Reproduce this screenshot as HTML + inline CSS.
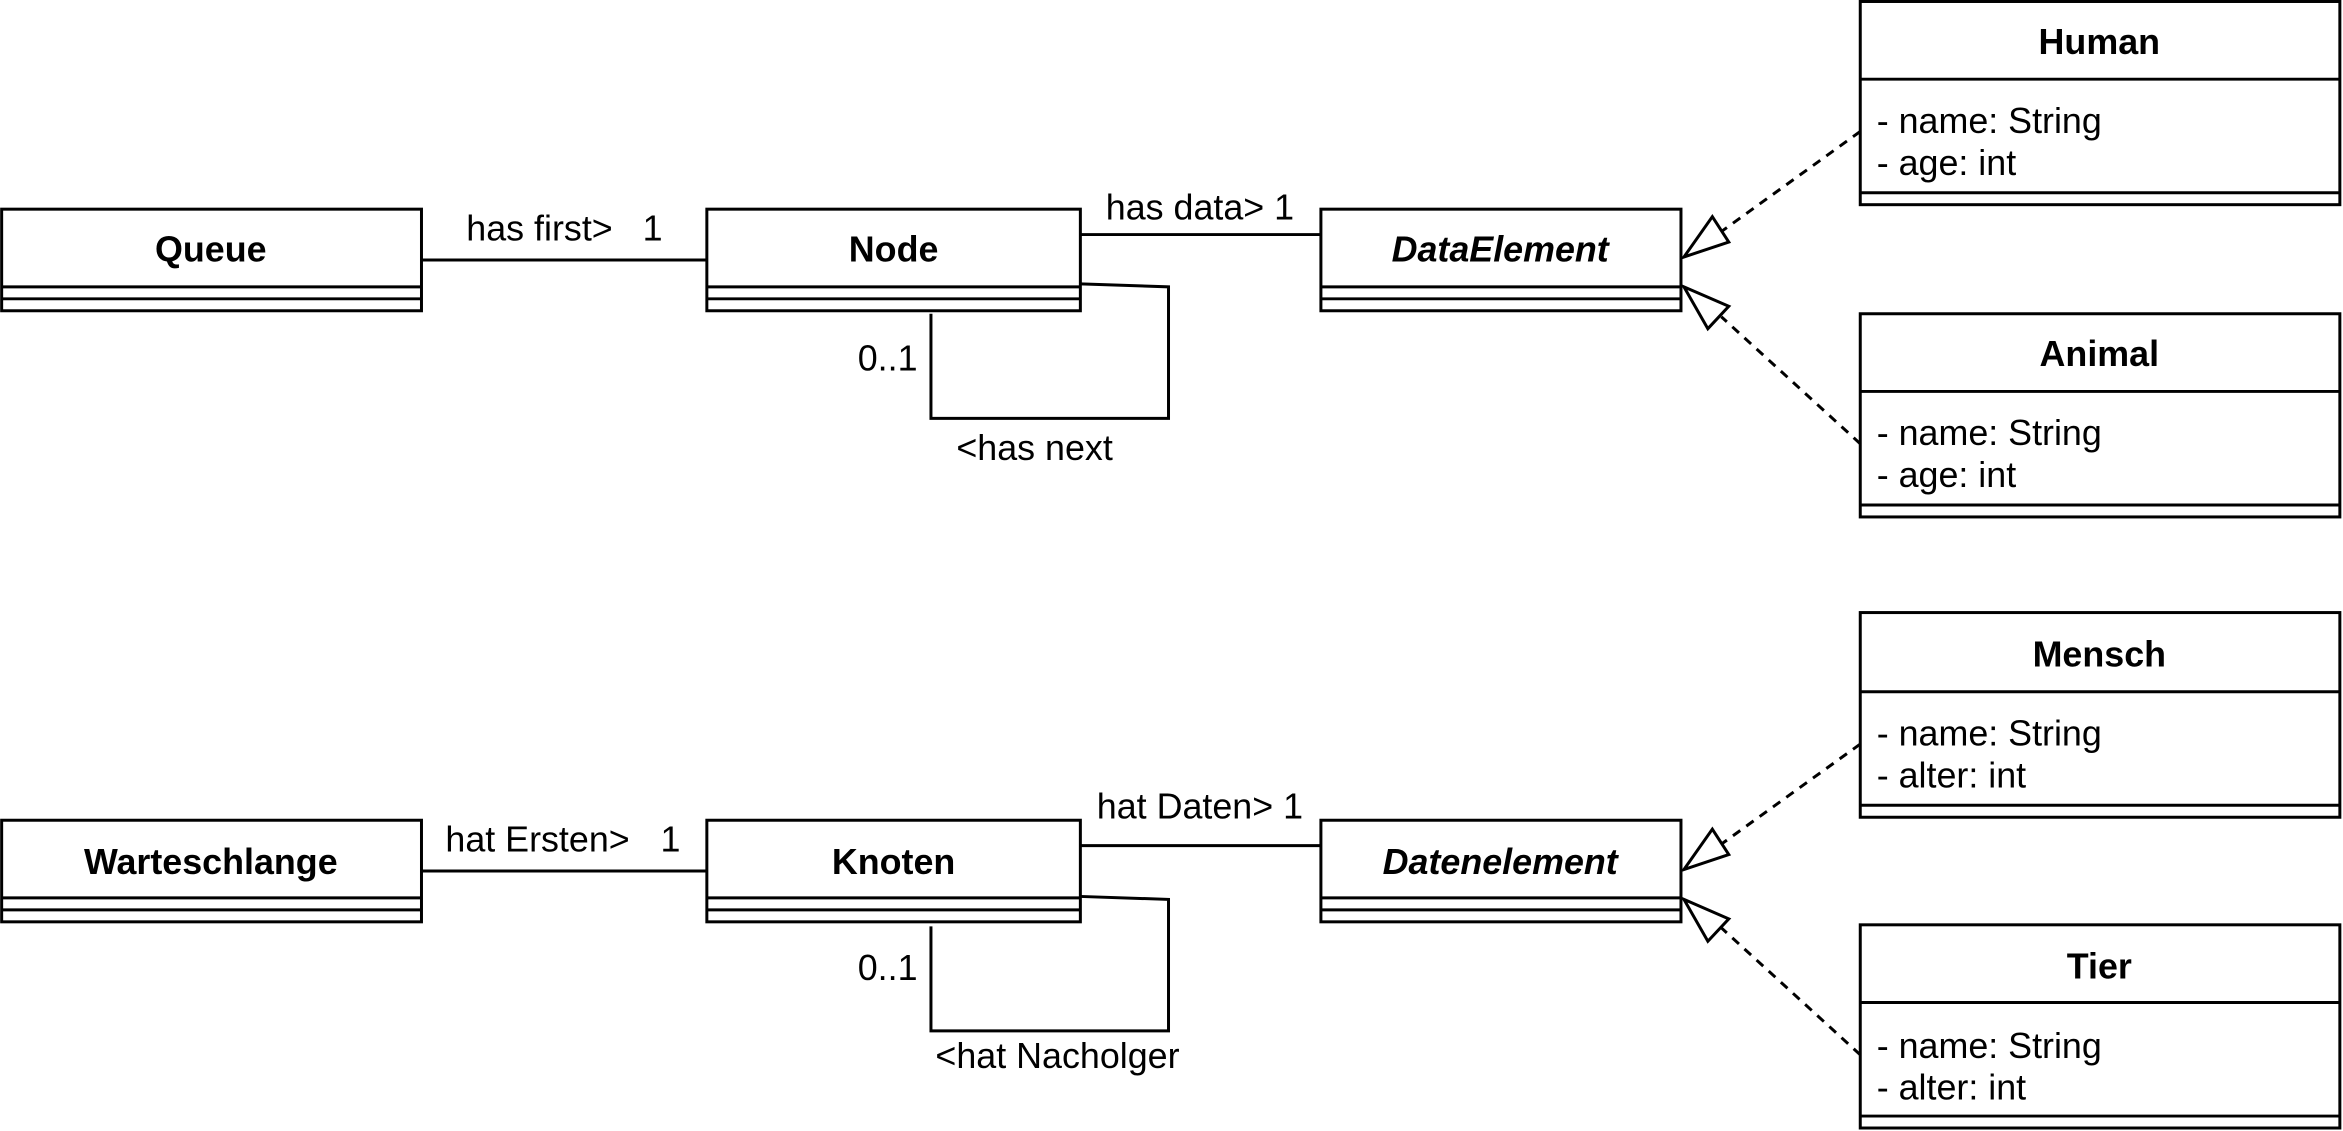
<!DOCTYPE html>
<html><head><meta charset="utf-8"><style>html,body{margin:0;padding:0;background:#fff}svg{display:block}</style></head>
<body>
<svg width="2343" height="1131" viewBox="0 0 1568 757" xmlns="http://www.w3.org/2000/svg" font-family="Liberation Sans, Arial, sans-serif" font-size="24" fill="none" stroke="#000" stroke-width="2">
<!-- TOP -->
<g>
<rect x="1" y="140" width="281" height="68" fill="#fff"/><line x1="1" y1="192" x2="282" y2="192"/><line x1="1" y1="200" x2="282" y2="200"/>
<rect x="473" y="140" width="250" height="68" fill="#fff"/><line x1="473" y1="192" x2="723" y2="192"/><line x1="473" y1="200" x2="723" y2="200"/>
<rect x="884" y="140" width="241" height="68" fill="#fff"/><line x1="884" y1="192" x2="1125" y2="192"/><line x1="884" y1="200" x2="1125" y2="200"/>
<rect x="1245" y="1" width="321" height="136" fill="#fff"/><line x1="1245" y1="53" x2="1566" y2="53"/><line x1="1245" y1="129" x2="1566" y2="129"/>
<rect x="1245" y="210" width="321" height="136" fill="#fff"/><line x1="1245" y1="262" x2="1566" y2="262"/><line x1="1245" y1="338" x2="1566" y2="338"/>
<line x1="282" y1="174" x2="473" y2="174"/>
<line x1="723" y1="157" x2="884" y2="157"/>
<polyline points="723,190 782,192 782,280 623,280 623,210"/>
<line x1="1245" y1="88" x2="1152" y2="155" stroke-dasharray="6,5"/>
<polygon points="1127,172 1146,145 1157,162" fill="#fff"/>
<line x1="1245" y1="297" x2="1152" y2="212" stroke-dasharray="6,5"/>
<polygon points="1127,192 1157,205 1143,220" fill="#fff"/>
</g>
<g stroke="none" fill="#000">
<text x="141" y="175" text-anchor="middle" font-weight="bold">Queue</text>
<text x="598" y="175" text-anchor="middle" font-weight="bold">Node</text>
<text x="1004" y="175" text-anchor="middle" font-weight="bold" font-style="italic">DataElement</text>
<text x="1405" y="36" text-anchor="middle" font-weight="bold">Human</text>
<text x="1256" y="89">- name: String</text><text x="1256" y="117">- age: int</text>
<text x="1405" y="245" text-anchor="middle" font-weight="bold">Animal</text>
<text x="1256" y="298">- name: String</text><text x="1256" y="326">- age: int</text>
<text x="312" y="161">has first&gt;</text><text x="430" y="161">1</text>
<text x="740" y="147">has data&gt; 1</text>
<text x="574" y="248">0..1</text>
<text x="640" y="308">&lt;has next</text>
</g>
<!-- BOTTOM -->
<g>
<rect x="1" y="549" width="281" height="68" fill="#fff"/><line x1="1" y1="601" x2="282" y2="601"/><line x1="1" y1="609" x2="282" y2="609"/>
<rect x="473" y="549" width="250" height="68" fill="#fff"/><line x1="473" y1="601" x2="723" y2="601"/><line x1="473" y1="609" x2="723" y2="609"/>
<rect x="884" y="549" width="241" height="68" fill="#fff"/><line x1="884" y1="601" x2="1125" y2="601"/><line x1="884" y1="609" x2="1125" y2="609"/>
<rect x="1245" y="410" width="321" height="137" fill="#fff"/><line x1="1245" y1="463" x2="1566" y2="463"/><line x1="1245" y1="539" x2="1566" y2="539"/>
<rect x="1245" y="619" width="321" height="136" fill="#fff"/><line x1="1245" y1="671" x2="1566" y2="671"/><line x1="1245" y1="747" x2="1566" y2="747"/>
<line x1="282" y1="583" x2="473" y2="583"/>
<line x1="723" y1="566" x2="884" y2="566"/>
<polyline points="723,600 782,602 782,690 623,690 623,620"/>
<line x1="1245" y1="498" x2="1152" y2="565" stroke-dasharray="6,5"/>
<polygon points="1127,582 1146,555 1157,572" fill="#fff"/>
<line x1="1245" y1="706" x2="1152" y2="621" stroke-dasharray="6,5"/>
<polygon points="1127,602 1157,615 1143,630" fill="#fff"/>
</g>
<g stroke="none" fill="#000">
<text x="141" y="585" text-anchor="middle" font-weight="bold">Warteschlange</text>
<text x="598" y="585" text-anchor="middle" font-weight="bold">Knoten</text>
<text x="1004" y="585" text-anchor="middle" font-weight="bold" font-style="italic">Datenelement</text>
<text x="1405" y="446" text-anchor="middle" font-weight="bold">Mensch</text>
<text x="1256" y="499">- name: String</text><text x="1256" y="527">- alter: int</text>
<text x="1405" y="655" text-anchor="middle" font-weight="bold">Tier</text>
<text x="1256" y="708">- name: String</text><text x="1256" y="736">- alter: int</text>
<text x="298" y="570">hat Ersten&gt;</text><text x="442" y="570">1</text>
<text x="734" y="548">hat Daten&gt; 1</text>
<text x="574" y="656">0..1</text>
<text x="626" y="715">&lt;hat Nacholger</text>
</g>
</svg>
</body></html>
